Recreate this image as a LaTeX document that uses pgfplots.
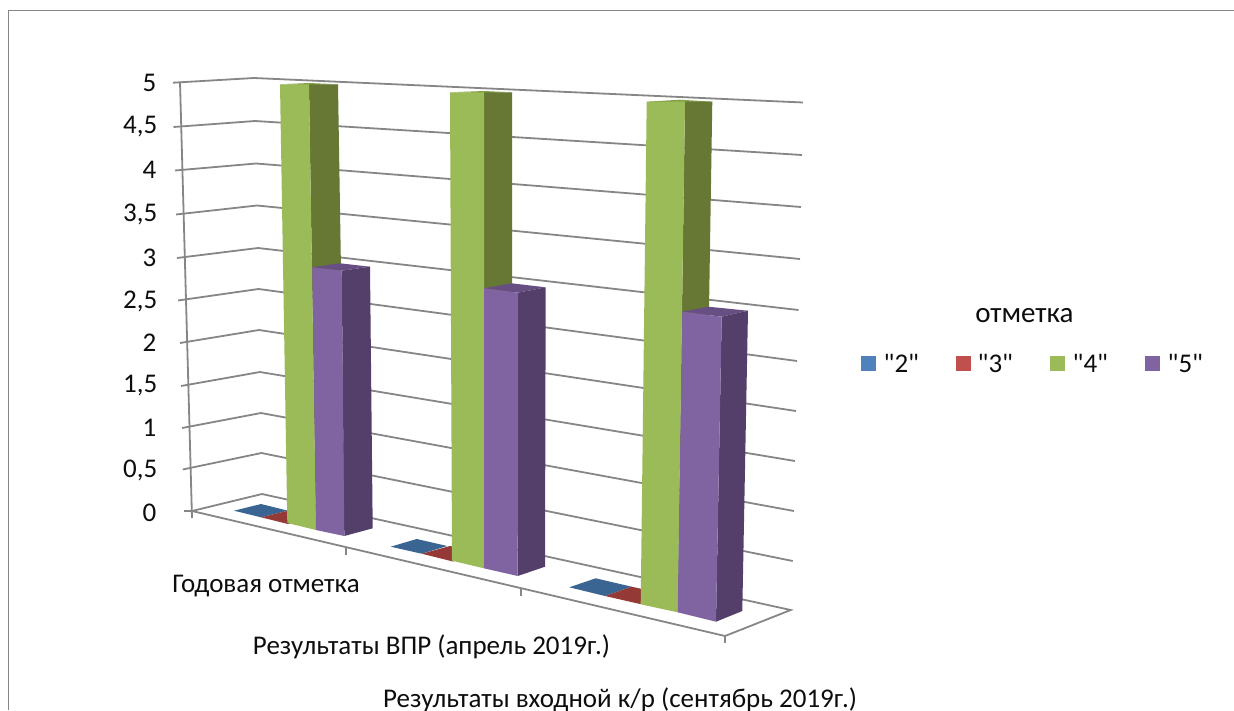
\documentclass[border=0pt]{standalone}
\usepackage{fontspec}
\newfontfamily\cf{Carlito}
\usepackage{pgfplots}
\pgfplotsset{compat=1.18}
\definecolor{gridc}{HTML}{868686}
\definecolor{bluetop}{HTML}{3A6491}
\definecolor{redtop}{HTML}{953936}
\definecolor{greenF}{HTML}{9BBB59}
\definecolor{greenS}{HTML}{667833}
\definecolor{greenT}{HTML}{84A04A}
\definecolor{purpF}{HTML}{8064A2}
\definecolor{purpS}{HTML}{533F69}
\definecolor{purpT}{HTML}{674F84}
\definecolor{legB}{HTML}{4F81BD}
\definecolor{legR}{HTML}{C0504D}
\newcommand\poly[2]{\addplot[fill=#1,draw=none,forget plot] coordinates {#2} --cycle;}
\newcommand\gl[1]{\addplot[gridc,line width=1.8pt,forget plot] coordinates {#1};}
\newcommand\txt[4][center]{\node[anchor=#1,inner sep=0pt,font=\cf\fontsize{27}{30}\selectfont,text=black!95] at (axis cs:#2,#3) {#4};}
\begin{document}
\begin{tikzpicture}
\clip (0,0) rectangle (1234pt,710pt);
\begin{axis}[at={(0,0)},anchor=south west,width=1234pt,height=710pt,scale only axis,
  xmin=0,xmax=1234,ymin=0,ymax=710,y dir=reverse,axis lines=none,clip=false]
% outer frame
\addplot[color=gridc,line width=1.5pt,forget plot] coordinates {(1234,10.3) (8.3,10.3) (8.3,710)};
% wall grid lines (value 5 down to 0)
\gl{(173,82.7) (254,78) (803,102.5)}
\gl{(173.5,127) (255,121) (802,155)}
\gl{(175,170.5) (256,163.5) (801,207)}
\gl{(176,214.5) (257,205.5) (800,259)}
\gl{(177,258) (258,248) (798.5,310)}
\gl{(178,300.5) (258.5,289) (797,361)}
\gl{(180,343) (259,330) (796,411)}
\gl{(181,386) (260,372) (795,461)}
\gl{(182,428) (261,413) (794,511)}
\gl{(182.7,469.5) (261.5,453) (792.7,561)}
\gl{(184,511) (192,511) (262,494) (790.7,610) (725,636) (192,511)}
% value axis and ticks
\gl{(180,82) (192,518)}
\gl{(346,548) (346,555)}
\gl{(521,589) (521,596)}
\gl{(725,636) (725,643)}
% group 1
\poly{bluetop}{(234,510.7) (261,504) (288,510.7) (261,517.3)}
\poly{redtop}{(261,517.3) (288,510.7) (315,517) (288,524)}
\poly{greenT}{(280,84.3) (309,83) (338,84.3) (309,85)}
\poly{greenS}{(309,84.3) (338,84.3) (345,520) (316,530)}
\poly{greenF}{(280,84.3) (309,84.3) (316,530) (287.3,523)}
\poly{purpT}{(312.3,267.3) (340,263.3) (370,266.7) (341.7,270.7)}
\poly{purpS}{(341.7,270.7) (370,266.7) (372.7,528.3) (344.3,536)}
\poly{purpF}{(312.3,267.3) (341.7,270.7) (344.3,536) (316,530)}
% group 2
\poly{bluetop}{(390.7,546.7) (416.7,539) (447.3,546) (421.7,553.7)}
\poly{redtop}{(421.7,553.7) (450,546) (482,553) (453,561.5)}
\poly{greenT}{(450,92.3) (484,91) (512,92.3) (484,93)}
\poly{greenS}{(484,92.3) (512,92.3) (512,290) (484,568)}
\poly{greenF}{(450,92.3) (484,92.3) (484,568.3) (452,560.7)}
\poly{purpT}{(484,288.3) (511.7,283.3) (545.7,287.3) (518,292.7)}
\poly{purpS}{(518,292.7) (545.7,287.3) (545,566.7) (517.7,576)}
\poly{purpF}{(484,288.3) (518,292.7) (517.7,576) (484,568.3)}
% group 3
\poly{bluetop}{(569.3,587.3) (595.7,578.3) (631.7,586.7) (605,596)}
\poly{redtop}{(605,596) (631.7,586.7) (665,594) (640,604)}
\poly{greenT}{(646.7,101.7) (680,99.7) (712.3,101.7) (685,102.5)}
\poly{greenS}{(685,101.7) (712.3,101.7) (709,310) (677.7,612)}
\poly{greenF}{(646.7,101.7) (685,101.7) (677.7,612.3) (640.7,604.3)}
\poly{purpT}{(682.3,311.7) (708.3,306.7) (748,310.7) (721.7,316.7)}
\poly{purpS}{(721.7,316.7) (748,310.7) (742.3,611) (716,621.7)}
\poly{purpF}{(682.3,311.7) (721.7,316.7) (716,621.7) (677.7,612.3)}
% legend swatches
\poly{legB}{(861,356) (876,356) (876,371) (861,371)}
\poly{legR}{(956,356) (971,356) (971,371) (956,371)}
\poly{greenF}{(1050,356) (1065,356) (1065,371) (1050,371)}
\poly{purpF}{(1145,356) (1160,356) (1160,371) (1145,371)}
% value labels
\txt[east]{156.5}{83}{5}
\txt[east]{157.5}{127}{4,5}
\txt[east]{156.5}{170}{4}
\txt[east]{157.5}{214}{3,5}
\txt[east]{156.5}{258}{3}
\txt[east]{157.5}{301}{2,5}
\txt[east]{156.5}{343}{2}
\txt[east]{157.5}{386}{1,5}
\txt[east]{156.5}{428}{1}
\txt[east]{157.5}{470}{0,5}
\txt[east]{156.5}{513}{0}
% category labels
\txt{266}{586}{Годовая отметка}
\txt{431.5}{647}{Результаты ВПР (апрель 2019г.)}
\txt[base]{620}{707}{Результаты входной к/р (сентябрь 2019г.)}
% legend text
\node[anchor=center,inner sep=0pt,font=\cf\fontsize{29}{32}\selectfont,text=black!95] at (axis cs:1024.5,316) {отметка};
\txt[west]{883.5}{363}{"2"}
\txt[west]{977.5}{363}{"3"}
\txt[west]{1072.5}{363}{"4"}
\txt[west]{1167.5}{363}{"5"}
\end{axis}
\end{tikzpicture}
\end{document}
